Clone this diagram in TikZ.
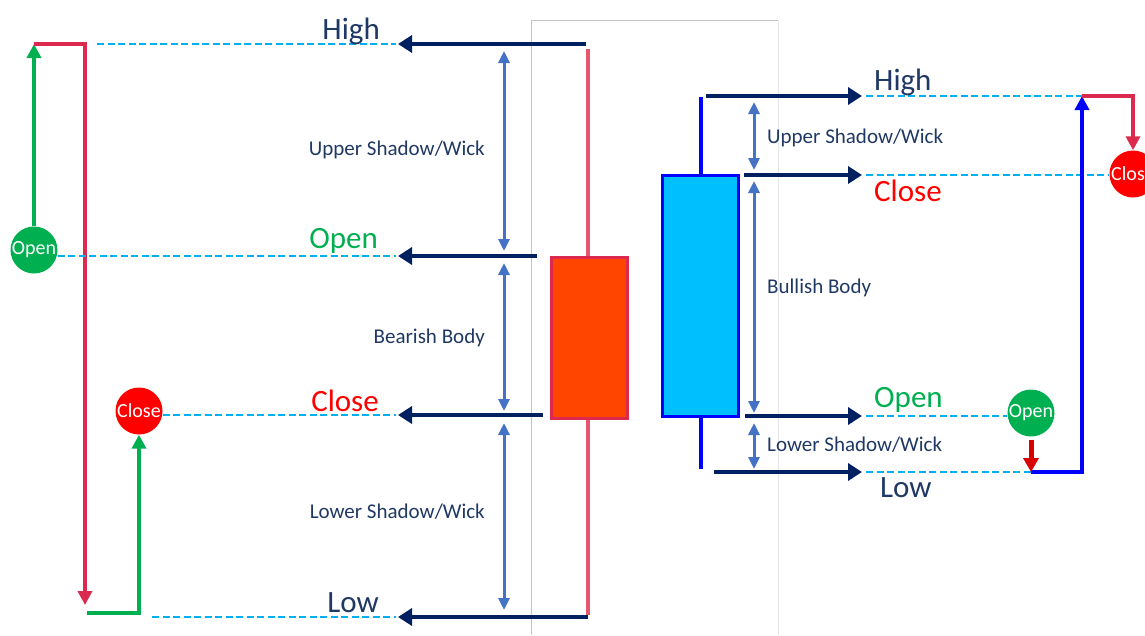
\documentclass[tikz,border=0pt]{standalone}
\usepackage{fontspec}
\setmainfont{Carlito}
\usetikzlibrary{arrows.meta}
\definecolor{navy}{HTML}{002060}
\definecolor{txtnavy}{HTML}{1F3864}
\definecolor{dashblue}{HTML}{00B0F0}
\definecolor{dimblue}{HTML}{4472C4}
\definecolor{mygreen}{HTML}{00B050}
\definecolor{myred}{HTML}{FF0000}
\definecolor{crimson}{HTML}{DC2A4E}
\definecolor{wickred}{HTML}{E5566E}
\definecolor{bearfill}{HTML}{FF4500}
\definecolor{bullfill}{HTML}{00BFFF}
\definecolor{bullblue}{HTML}{0000FF}
\definecolor{framegray}{HTML}{C4C4C4}
\definecolor{framelight}{HTML}{E6E6E6}
\begin{document}
\begin{tikzpicture}[x=1pt,y=-1pt,
  pointer/.style={draw=navy, line width=4.5pt, -{Triangle[length=14pt,width=17pt]}},
  guide/.style={draw=dashblue, line width=2.5pt, dash pattern=on 7pt off 3.5pt},
  span/.style={draw=dimblue, line width=3pt, {Triangle[length=12pt,width=11pt]}-{Triangle[length=12pt,width=11pt]}},
  biglabel/.style={font=\fontsize{31}{36}\selectfont, inner sep=0pt},
  smalllabel/.style={font=\fontsize{21}{25}\selectfont, text=txtnavy, inner sep=0pt},
  dot/.style={circle, minimum size=47pt, inner sep=0pt, text=white, font=\fontsize{20}{22}\selectfont},
  greenpath/.style={draw=mygreen, line width=4.5pt, -{Triangle[length=14pt,width=14pt]}},
  redpath/.style={draw=crimson, line width=4pt, -{Triangle[length=14pt,width=14pt]}},
  bluepath/.style={draw=bullblue, line width=4.5pt, -{Triangle[length=14pt,width=14pt]}},
  wick/.style={line width=4pt},
  candle/.style={line width=3pt, minimum width=76pt, inner sep=0pt}
]
\useasboundingbox (0,0) rectangle (1145,635);
\clip (0,0) rectangle (1145,635);

% frame
\draw[framegray, line width=0.8pt] (531,635) -- (531,20.5) -- (778,20.5);
\draw[framelight, line width=0.8pt] (778,20.5) -- (778,635);

% ---------- bearish candle ----------
\coordinate (bwTop) at (588,49);
\coordinate (bwBot) at (588,615);
\draw[wickred, wick] (bwTop) -- (bwBot);
\node[candle, draw=crimson, fill=bearfill, minimum height=161pt] (bear) at (589,337.5) {};

% left circles
\node[dot, fill=mygreen] (openL) at (34,250) {Open};
\node[dot, fill=myred] (closeL) at (139,411) {Close};

% left paths
\coordinate (lTop) at (34,44);
\coordinate (lRedTip) at (85,605);
\coordinate (lGreenStart) at (87,613);
\draw[greenpath] (openL.north) -- (lTop);
\draw[redpath] (lTop) -| (lRedTip);
\draw[greenpath] (lGreenStart) -| (closeL.south);

% left guide lines
\coordinate (gHiA) at (97,44);   \coordinate (gHiB) at (396,44);
\coordinate (gOpB) at (396,256);
\coordinate (gClB) at (396,415);
\coordinate (gLoA) at (152,617); \coordinate (gLoB) at (396,617);
\draw[guide] (gHiA) -- (gHiB);
\draw[guide] (openL.east |- gOpB) -- (gOpB);
\draw[guide] (closeL.east |- gClB) -- (gClB);
\draw[guide] (gLoA) -- (gLoB);

% left pointers
\coordinate (pHiA) at (586,44);  \coordinate (pHiB) at (398,44);
\coordinate (pOpA) at (537,256); \coordinate (pOpB) at (398,256);
\coordinate (pClA) at (543,415); \coordinate (pClB) at (398,415);
\coordinate (pLoA) at (588,617); \coordinate (pLoB) at (398,617);
\draw[pointer] (pHiA) -- (pHiB);
\draw[pointer] (pOpA) -- (pOpB);
\draw[pointer] (pClA) -- (pClB);
\draw[pointer] (pLoA) -- (pLoB);

% left labels
\node[biglabel, text=txtnavy, anchor=east] (lblHiL) at (380,31) {High};
\node[biglabel, text=mygreen, anchor=east] (lblOpL) at (378,241) {Open};
\node[biglabel, text=myred, anchor=east] (lblClL) at (379,401) {Close};
\node[biglabel, text=txtnavy, anchor=east] (lblLoL) at (379,603) {Low};

% left spans
\coordinate (s1a) at (504,51);  \coordinate (s1b) at (504,251);
\coordinate (s2a) at (504,263); \coordinate (s2b) at (504,411);
\coordinate (s3a) at (504,423); \coordinate (s3b) at (504,610);
\draw[span] (s1a) -- (s1b);
\draw[span] (s2a) -- (s2b);
\draw[span] (s3a) -- (s3b);
\node[smalllabel, anchor=east] (uswL) at (485,150) {Upper Shadow/Wick};
\node[smalllabel, anchor=east] (bbL) at (485,338) {Bearish Body};
\node[smalllabel, anchor=east] (lswL) at (485,512) {Lower Shadow/Wick};

% ---------- bullish candle ----------
\coordinate (uwTop) at (700.5,97);
\coordinate (uwBot) at (700.5,469);
\draw[bullblue, wick] (uwTop) -- (uwBot);
\node[candle, draw=bullblue, fill=bullfill, minimum height=241pt] (bull) at (700,295.5) {};

% right circles
\node[dot, fill=myred] (closeR) at (1133,174) {Close};
\node[dot, fill=mygreen] (openR) at (1031,413) {Open};

% right pointers
\coordinate (qHiA) at (706,96);  \coordinate (qHiB) at (862,96);
\coordinate (qClA) at (744,175); \coordinate (qClB) at (862,175);
\coordinate (qOpA) at (745,416); \coordinate (qOpB) at (862,416);
\coordinate (qLoA) at (714,472); \coordinate (qLoB) at (862,472);
\draw[pointer] (qHiA) -- (qHiB);
\draw[pointer] (qClA) -- (qClB);
\draw[pointer] (qOpA) -- (qOpB);
\draw[pointer] (qLoA) -- (qLoB);

% right guide lines
\coordinate (hHiA) at (866,96);  \coordinate (rCorner) at (1082,96);
\coordinate (hClA) at (866,175);
\coordinate (hOpA) at (866,416);
\coordinate (hLoA) at (866,472); \coordinate (rLowEnd) at (1031,472);
\draw[guide] (hHiA) -- (rCorner);
\draw[guide] (hClA) -- (closeR.west |- hClA);
\draw[guide] (hOpA) -- (openR.west |- hOpA);
\draw[guide] (hLoA) -- (rLowEnd);

% right paths
\draw[bluepath] (rLowEnd) -| (rCorner);
\draw[redpath] (rCorner) -| (closeR.north);
\draw[draw=myred!85!black, line width=5pt, -{Triangle[length=14pt,width=15pt]}, shorten <=3pt] (openR.south) -- (rLowEnd);

% right labels
\node[biglabel, text=txtnavy, anchor=west] (lblHiR) at (874,82) {High};
\node[biglabel, text=myred, anchor=west] (lblClR) at (874,191) {Close};
\node[biglabel, text=mygreen, anchor=west] (lblOpR) at (874,400) {Open};
\node[biglabel, text=txtnavy, anchor=west] (lblLoR) at (880,488) {Low};

% right spans
\coordinate (t1a) at (754,102); \coordinate (t1b) at (754,170);
\coordinate (t2a) at (754,181); \coordinate (t2b) at (754,413);
\coordinate (t3a) at (754,423); \coordinate (t3b) at (754,469);
\draw[span] (t1a) -- (t1b);
\draw[span] (t2a) -- (t2b);
\draw[span] (t3a) -- (t3b);
\node[smalllabel, anchor=west] (uswR) at (767,138) {Upper Shadow/Wick};
\node[smalllabel, anchor=west] (bbR) at (767,288) {Bullish Body};
\node[smalllabel, anchor=west] (lswR) at (767,445) {Lower Shadow/Wick};
\end{tikzpicture}
\end{document}
